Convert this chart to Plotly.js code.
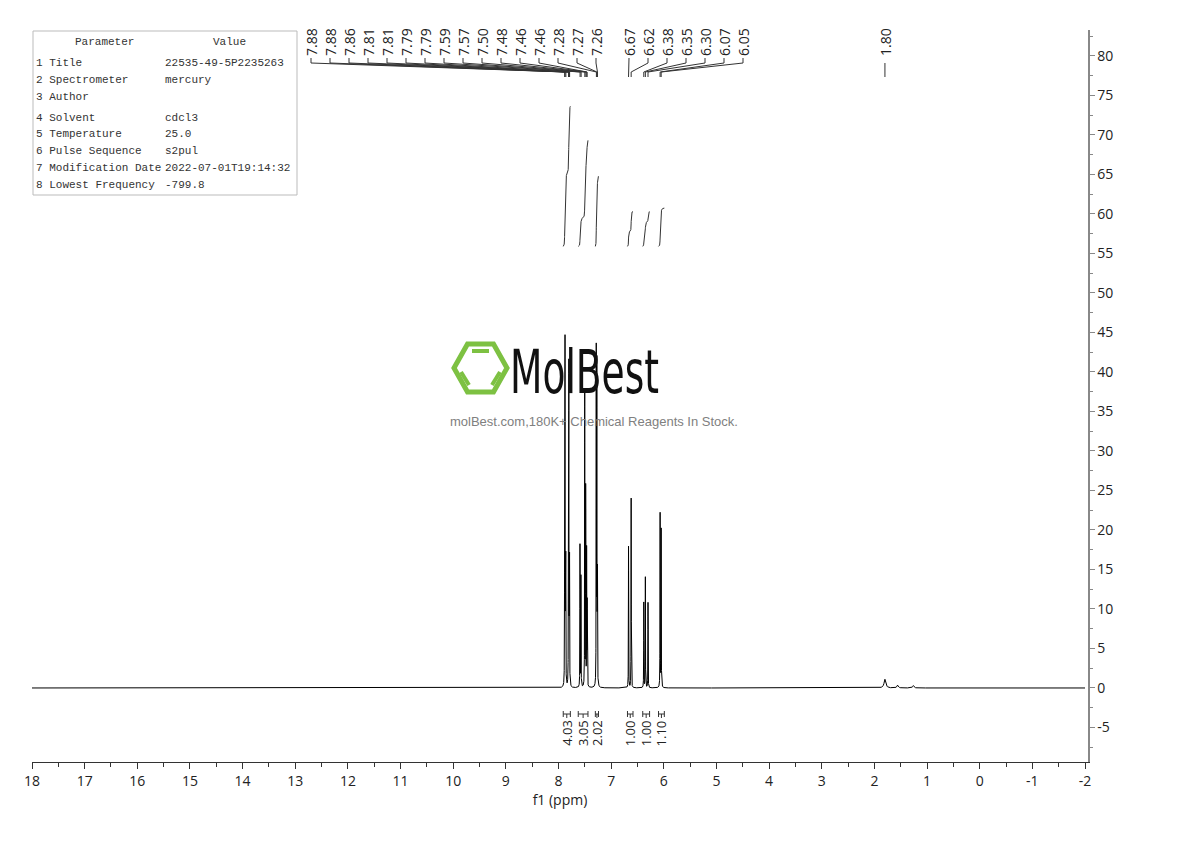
<!DOCTYPE html>
<html><head><meta charset="utf-8">
<script src="https://cdn.plot.ly/plotly-3.0.1.min.js"></script>
<style>html,body{margin:0;padding:0;background:#fff}#chart{width:1190px;height:841px}</style>
</head><body><div id="chart"></div>
<script>
// ---- data ----
const peakPpm    = [7.884, 7.876, 7.862, 7.812, 7.804, 7.790, 7.592, 7.574, 7.502, 7.484, 7.466, 7.456, 7.283, 7.272, 7.260, 6.670, 6.620, 6.380, 6.350, 6.300, 6.070, 6.050, 1.800, 1.560, 1.260];
const peakHeight = [18, 43, 16, 17, 40, 16, 18, 14, 37, 25, 17, 11, 42, 40, 14, 17.9, 24, 10.8, 14, 10.8, 22, 20, 1.1, 0.35, 0.3];
const peakWidth  = [0.0022,0.0022,0.0022,0.0022,0.0022,0.0022,0.0022,0.0022,0.0022,0.0022,0.0022,0.0022,0.0022,0.0022,0.0022,0.0022,0.0022,0.0022,0.0022,0.0022,0.0022,0.0022,0.02,0.015,0.015];

const leftPeakLabels  = ['7.88','7.88','7.86','7.81','7.81','7.79','7.79','7.59','7.57','7.50','7.48','7.46','7.46','7.28','7.27','7.26'];
const rightPeakLabels = ['6.67','6.62','6.38','6.35','6.30','6.07','6.05'];
const singlePeakLabels = ['1.80'];

const intStart  = [7.91, 7.625, 7.30, 6.69, 6.40, 6.10];
const intEnd    = [7.775, 7.44, 7.24, 6.585, 6.27, 5.99];
const intValues = [4.03, 3.05, 2.02, 1.00, 1.00, 1.10];

const xTickVals = [18,17,16,15,14,13,12,11,10,9,8,7,6,5,4,3,2,1,0,-1,-2];
const xTickText = ['18','17','16','15','14','13','12','11','10','9','8','7','6','5','4','3','2','1','0','-1','-2'];
const yTickVals = [-5,0,5,10,15,20,25,30,35,40,45,50,55,60,65,70,75,80];
const yTickText = ['-5','0','5','10','15','20','25','30','35','40','45','50','55','60','65','70','75','80'];

const paramNames  = ['1 Title','2 Spectrometer','3 Author','4 Solvent','5 Temperature','6 Pulse Sequence','7 Modification Date','8 Lowest Frequency'];
const paramValues = ['22535-49-5P2235263','mercury','','cdcl3','25.0','s2pul','2022-07-01T19:14:32','-799.8'];

// ---- geometry helpers (layout only) ----
const L = 32, R = 1088, T = 30, B = 762;
const X_RANGE = [18, -2.057];
const Y_RANGE = [-9.37, 83.29];
const px2x = p => (p - L) / (R - L);
const py2y = p => (B - p) / (B - T);
const pyData = p => Y_RANGE[1] - (p - T) / (B - T) * (Y_RANGE[1] - Y_RANGE[0]);
const pxData = p => X_RANGE[0] - (p - L) / (R - L) * (X_RANGE[0] - X_RANGE[1]);

// ---- spectrum built from the peak list ----
let xs = [];
for (let v = 18; v >= -2.0001; v -= 0.01) xs.push(+v.toFixed(4));
for (let v = 8.0; v >= 5.95; v -= 0.0005) xs.push(+v.toFixed(5));
peakPpm.forEach(p => xs.push(p));
xs = Array.from(new Set(xs)).sort((a, b) => b - a);
const ys = xs.map(x => {
  let s = 0;
  for (let i = 0; i < peakPpm.length; i++) {
    const d = (x - peakPpm[i]) / peakWidth[i];
    s += peakHeight[i] / (1 + d * d);
  }
  return s;
});

const traces = [];
traces.push({x: xs, y: ys, type: 'scatter', mode: 'lines', line: {color: '#000', width: 1}, hoverinfo: 'skip'});

// ---- integral curves ----
const intBase = 55.9, intScale = 4.4;
for (let r = 0; r < intStart.length; r++) {
  const ix = [], iy = [];
  let cum = 0, prevX = null, prevY = null;
  const raw = [];
  for (let i = 0; i < xs.length; i++) {
    if (xs[i] <= intStart[r] && xs[i] >= intEnd[r]) {
      if (prevX !== null) cum += (prevY + ys[i]) / 2 * Math.abs(prevX - xs[i]);
      prevX = xs[i]; prevY = ys[i];
      ix.push(xs[i]); raw.push(cum);
    }
  }
  const tot = raw[raw.length - 1];
  raw.forEach(c => iy.push(intBase + intValues[r] * intScale * c / tot));
  traces.push({x: ix, y: iy, type: 'scatter', mode: 'lines', line: {color: '#333', width: 1}, hoverinfo: 'skip'});
}

// ---- integral brackets ----
const brX = [], brY = [];
const yBr = pyData(714), dBr = 3 * (Y_RANGE[1] - Y_RANGE[0]) / (B - T);
for (let r = 0; r < intStart.length; r++) {
  const c = (intStart[r] + intEnd[r]) / 2;
  brX.push(intStart[r], intStart[r], null, intStart[r], intEnd[r], null, intEnd[r], intEnd[r], null, c, c, null);
  brY.push(yBr - dBr, yBr + dBr, null, yBr, yBr, null, yBr - dBr, yBr + dBr, null, yBr, pyData(718), null);
}
traces.push({x: brX, y: brY, type: 'scatter', mode: 'lines', line: {color: '#333', width: 1}, hoverinfo: 'skip'});

// ---- peak label connectors ----
const annotations = [];
const cX = [], cY = [];
const y1 = pyData(58), y2 = pyData(63), y3 = pyData(72), y4 = pyData(77);
const lblFont = {family: 'Open Sans, Noto Sans, sans-serif', size: 14, color: '#222'};
function addLabels(labels, startPx, stepPx) {
  labels.forEach((lab, i) => {
    const lx = pxData(startPx + i * stepPx);
    const pk = parseFloat(lab);
    cX.push(lx, lx, pk, pk, null);
    cY.push(y1, y2, y3, y4, null);
    annotations.push({x: lx, y: y1, xref: 'x', yref: 'y', text: lab, showarrow: false, textangle: -90,
      xanchor: 'center', yanchor: 'bottom', font: lblFont});
  });
}
addLabels(leftPeakLabels, 311, 19);
addLabels(rightPeakLabels, 629, 19);
singlePeakLabels.forEach(lab => {
  const pk = parseFloat(lab);
  cX.push(pk, pk, null); cY.push(pyData(63), y4, null);
  annotations.push({x: pk, y: y1, xref: 'x', yref: 'y', text: lab, showarrow: false, textangle: -90,
    xanchor: 'center', yanchor: 'bottom', font: lblFont});
});
traces.push({x: cX, y: cY, type: 'scatter', mode: 'lines', line: {color: '#333', width: 1}, hoverinfo: 'skip'});

// integral value labels
for (let r = 0; r < intStart.length; r++) {
  annotations.push({x: (intStart[r] + intEnd[r]) / 2, y: pyData(718), xref: 'x', yref: 'y', text: intValues[r].toFixed(2),
    showarrow: false, textangle: -90, xanchor: 'center', yanchor: 'top',
    font: {family: 'Open Sans, Noto Sans, sans-serif', size: 13, color: '#222'}});
}

// ---- parameter table ----
const shapes = [];
shapes.push({type: 'rect', xref: 'paper', yref: 'paper', x0: px2x(33), x1: px2x(297), y0: py2y(195), y1: py2y(31),
  line: {color: '#bbb', width: 1}, fillcolor: 'rgba(255,255,255,0)'});
const tFont = {family: 'Liberation Mono, DejaVu Sans Mono, monospace', size: 11, color: '#333'};
annotations.push({x: px2x(104), y: py2y(42), xref: 'paper', yref: 'paper', text: 'Parameter', showarrow: false, xanchor: 'center', yanchor: 'middle', font: tFont});
annotations.push({x: px2x(229), y: py2y(42), xref: 'paper', yref: 'paper', text: 'Value', showarrow: false, xanchor: 'center', yanchor: 'middle', font: tFont});
const rowPx = [63, 80, 97, 118, 134, 151, 168, 185];
paramNames.forEach((n, i) => {
  annotations.push({x: px2x(34), y: py2y(rowPx[i]), xref: 'paper', yref: 'paper', text: n, showarrow: false, xanchor: 'left', yanchor: 'middle', font: tFont});
  if (paramValues[i]) annotations.push({x: px2x(163), y: py2y(rowPx[i]), xref: 'paper', yref: 'paper', text: paramValues[i], showarrow: false, xanchor: 'left', yanchor: 'middle', font: tFont});
});

// ---- watermark logo ----
const P = (x, y) => px2x(x).toFixed(5) + ',' + py2y(y).toFixed(5);
shapes.push({type: 'path', xref: 'paper', yref: 'paper',
  path: 'M' + P(454, 368) + ' L' + P(467.5, 344) + ' L' + P(493.5, 344) + ' L' + P(507, 368) + ' L' + P(493.5, 392) + ' L' + P(467.5, 392) + ' Z',
  line: {color: '#7dc142', width: 5}, fillcolor: 'rgba(0,0,0,0)'});
shapes.push({type: 'path', xref: 'paper', yref: 'paper', path: 'M' + P(472, 351) + ' L' + P(489, 351), line: {color: '#7dc142', width: 4}});
shapes.push({type: 'path', xref: 'paper', yref: 'paper', path: 'M' + P(461, 372) + ' L' + P(469, 385), line: {color: '#7dc142', width: 4}});
shapes.push({type: 'path', xref: 'paper', yref: 'paper', path: 'M' + P(500, 372) + ' L' + P(492, 385), line: {color: '#7dc142', width: 4}});
annotations.push({x: px2x(508), y: py2y(372), xref: 'paper', yref: 'paper', text: 'MolBest', showarrow: false,
  xanchor: 'left', yanchor: 'middle', font: {family: 'Liberation Sans Narrow, DejaVu Sans Condensed, Arial Narrow, sans-serif', size: 58, color: '#111'}});
annotations.push({x: px2x(594), y: py2y(421), xref: 'paper', yref: 'paper', text: 'molBest.com,180K+ Chemical Reagents In Stock.', showarrow: false,
  xanchor: 'center', yanchor: 'middle', font: {family: 'Liberation Sans, Arial, sans-serif', size: 13, color: '#808080'}});

const layout = {
  width: 1190, height: 841,
  margin: {l: L, r: 1190 - R, t: T, b: 841 - B, pad: 0},
  paper_bgcolor: '#fff', plot_bgcolor: '#fff',
  showlegend: false,
  xaxis: {range: X_RANGE, showline: true, linecolor: '#333', linewidth: 1, ticks: 'outside', ticklen: 6, tickcolor: '#333',
    tickmode: 'array', tickvals: xTickVals, ticktext: xTickText, showgrid: false, zeroline: false,
    tickfont: {family: 'Open Sans, Noto Sans, sans-serif', size: 14, color: '#222'},
    minor: {tickmode: 'linear', tick0: 0, dtick: 0.5, ticks: 'outside', ticklen: 4, tickcolor: '#333', showgrid: false},
    title: {text: 'f1 (ppm)', font: {family: 'Open Sans, Noto Sans, sans-serif', size: 14, color: '#222'}, standoff: 0}},
  yaxis: {range: Y_RANGE, side: 'right', showline: true, linecolor: '#888', linewidth: 1.5, ticks: 'outside', ticklen: 5, tickcolor: '#888',
    tickmode: 'array', tickvals: yTickVals, ticktext: yTickText, showgrid: false, zeroline: false,
    tickfont: {family: 'Open Sans, Noto Sans, sans-serif', size: 14, color: '#222'},
    minor: {tickmode: 'linear', tick0: 0, dtick: 2.5, ticks: 'outside', ticklen: 3, tickcolor: '#888', showgrid: false}},
  shapes: shapes,
  annotations: annotations
};
Plotly.newPlot('chart', traces, layout, {displayModeBar: false, staticPlot: true}).then(() => {
  // condense the logo word horizontally, as in the reference logo
  document.querySelectorAll('#chart .annotation-text').forEach(t => {
    if (t.textContent === 'MolBest') {
      t.style.transformBox = 'fill-box';
      t.style.transformOrigin = 'left center';
      t.style.transform = 'scale(0.72, 1.05)';
    }
  });
});
</script></body></html>
